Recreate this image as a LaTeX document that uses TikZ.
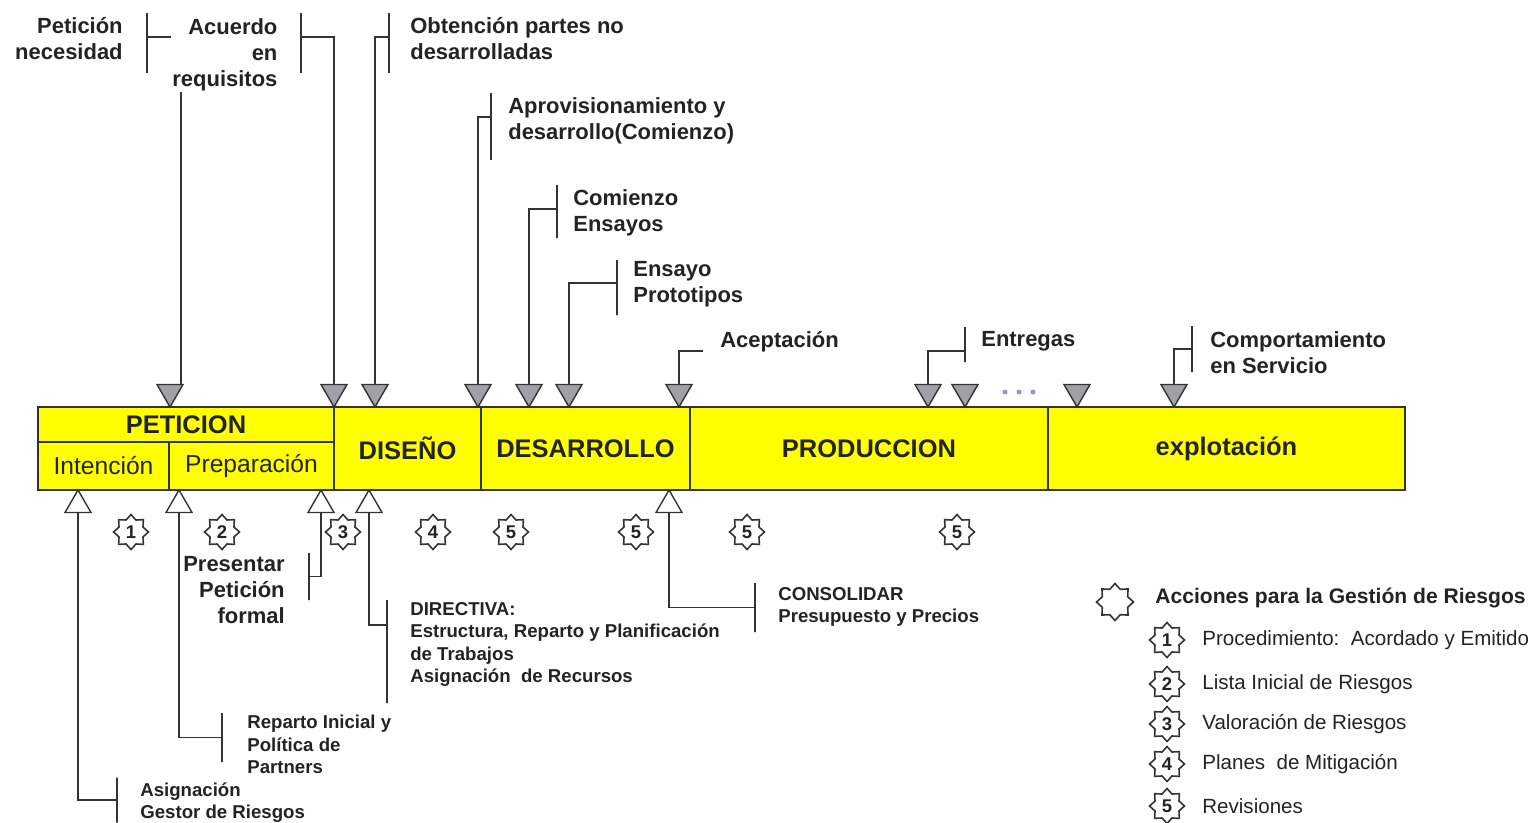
\documentclass[tikz,border=0pt]{standalone}
\usepackage{fontspec}
\setmainfont{Liberation Sans}
\usetikzlibrary{shapes.geometric}
\definecolor{phaseyellow}{RGB}{255,255,0}
\definecolor{linegray}{RGB}{51,51,51}
\definecolor{trigray}{RGB}{160,160,166}
\definecolor{dotblue}{RGB}{150,150,200}
\definecolor{textgray}{RGB}{35,35,35}

\begin{document}
\begin{tikzpicture}[
    x=0.02cm, y=-0.02cm,
    phase/.style={rectangle, draw=linegray, fill=phaseyellow, line width=1.1pt, inner sep=0pt,
                  text centered, text=textgray, font=\fontsize{14.5}{17}\selectfont\bfseries},
    subphase/.style={phase, font=\fontsize{14}{17}\selectfont},
    tridown/.style={regular polygon, regular polygon sides=3, shape border rotate=180,
                    draw=linegray, fill=trigray, line width=0.8pt, minimum size=0.6cm, inner sep=0pt},
    triup/.style={regular polygon, regular polygon sides=3, draw=linegray, fill=white,
                  line width=0.8pt, minimum size=0.6cm, inner sep=0pt},
    callout/.style={inner sep=0pt, text=textgray, font=\fontsize{12.5}{14.8}\selectfont\bfseries},
    note/.style={inner sep=0pt, text=textgray, font=\fontsize{10.6}{12.8}\selectfont\bfseries},
    bracket/.style={rectangle, draw=linegray, line width=1pt, inner sep=0pt, outer sep=0pt, minimum width=0pt},
    link/.style={draw=linegray, line width=1pt},
    riskstar/.style={star, star points=8, star point ratio=1.35, draw=linegray, line width=0.9pt,
                     minimum size=0.7cm, inner sep=0pt, text=textgray, font=\fontsize{10.5}{12}\selectfont\bfseries},
    legtext/.style={inner sep=0pt, anchor=west, text=textgray, font=\fontsize{11.7}{14}\selectfont}
]
\useasboundingbox (0,0) rectangle (1538,822);

% phases
\node[phase, minimum width=5.92cm, minimum height=0.70cm] (peticion) at (186,424.5) {PETICION};
\node[subphase, minimum width=2.62cm, minimum height=0.96cm] (intencion) at (103.5,466) {Intención};
\node[subphase, minimum width=3.30cm, minimum height=0.96cm] (preparacion) at (251.5,466) {Preparación};
\node[phase, minimum width=2.94cm, minimum height=1.66cm] (diseno) at (407.5,448.5) {DISEÑO};
\node[phase, minimum width=4.18cm, minimum height=1.66cm] (desarrollo) at (585.5,448.5) {DESARROLLO};
\node[phase, minimum width=7.16cm, minimum height=1.66cm] (produccion) at (869,448.5) {PRODUCCION};
\node[phase, minimum width=7.14cm, minimum height=1.66cm] (explotacion) at (1226.5,448.5) {explotación};

% milestones above and below the bar
\foreach \x/\n in {170/mNecesidad, 334/mAcuerdo, 375/mObtencion, 478/mAprov, 529/mEnsayos,
                   569/mPrototipos, 679/mAceptacion, 928/mEntrega, 965/mEntregaB, 1077/mServicioA, 1174/mServicio}
    \node[tridown] (\n) at (\x,392) {};
\foreach \x/\n in {78/uGestor, 179/uReparto, 321/uPresentar, 369/uDirectiva, 669/uConsolidar}
    \node[triup] (\n) at (\x,505) {};
\foreach \x in {1005,1019,1033}
    \fill[dotblue] (\x,392) circle (0.05cm);

% risk actions along the bar
\foreach \x/\k/\n in {131/1/sUno, 222/2/sDos, 343/3/sTres, 433/4/sCuatro, 511/5/sCincoA,
                      636/5/sCincoB, 747/5/sCincoC, 957/5/sCincoD}
    \node[riskstar] (\n) at (\x,532) {\k};

% upper callouts
\node[callout, align=right, anchor=north east] (necesidad) at (123,17) {Petición\\necesidad};
\node[bracket, minimum height=1.2cm] (bNecesidad) at (147,43) {};
\draw[link] ([yshift=0.12cm]bNecesidad.east) -| ([xshift=0.22cm]mNecesidad.north);

\node[callout, align=right, anchor=north east, fill=white, inner sep=1pt] (acuerdo) at (279.5,16) {Acuerdo\\en\\requisitos};
\node[bracket, minimum height=1.2cm] (bAcuerdo) at (301,43) {};
\draw[link] ([yshift=0.12cm]bAcuerdo.east) -| (mAcuerdo.north);

\node[callout, align=left, anchor=north west] (obtencion) at (410,17) {Obtención partes no\\desarrolladas};
\node[bracket, minimum height=1.2cm] (bObtencion) at (389,43) {};
\draw[link] ([yshift=0.12cm]bObtencion.west) -| (mObtencion.north);

\node[callout, align=left, anchor=north west] (aprov) at (508,97) {Aprovisionamiento y\\desarrollo(Comienzo)};
\node[bracket, minimum height=1.34cm] (bAprov) at (491,126.5) {};
\draw[link] ([yshift=0.19cm]bAprov.west) -| (mAprov.north);

\node[callout, align=left, anchor=north west] (ensayos) at (573,189) {Comienzo\\Ensayos};
\node[bracket, minimum height=1.06cm] (bEnsayos) at (557,211.5) {};
\draw[link] ([yshift=0.05cm]bEnsayos.west) -| (mEnsayos.north);

\node[callout, align=left, anchor=north west] (prototipos) at (633,261) {Ensayo\\Prototipos};
\node[bracket, minimum height=1.1cm] (bPrototipos) at (617,287.5) {};
\draw[link] ([yshift=0.09cm]bPrototipos.west) -| (mPrototipos.north);

\node[callout, anchor=north west] (aceptacion) at (720,331) {Aceptación};
\coordinate (cAceptacion) at (703,351);
\draw[link] (cAceptacion) -| (mAceptacion.north);

\node[callout, anchor=north west] (entregas) at (981,331) {Entregas};
\node[bracket, minimum height=0.7cm] (bEntregas) at (965,344.5) {};
\draw[link] ([yshift=-0.13cm]bEntregas.west) -| (mEntrega.north);

\node[callout, align=left, anchor=north west] (servicio) at (1210,331) {Comportamiento\\en Servicio};
\node[bracket, minimum height=0.92cm] (bServicio) at (1192,349) {};
\draw[link] (bServicio.west) -| (mServicio.north);

% lower callouts
\node[callout, align=right, anchor=north east] (presentar) at (285,556) {Presentar\\Petición\\formal};
\node[bracket, minimum height=0.94cm] (bPresentar) at (309,576.5) {};
\draw[link] (uPresentar.south) |- (bPresentar.east);

\node[note, align=left, anchor=north west] (directiva) at (410,602)
    {DIRECTIVA:\\Estructura, Reparto y Planificación\\de Trabajos\\Asignación\ \ de Recursos};
\node[bracket, minimum height=2.06cm] (bDirectiva) at (387,651.5) {};
\draw[link] (uDirectiva.south) |- ([yshift=0.53cm]bDirectiva.west);

\node[note, align=left, anchor=north west] (consolidar) at (778,587) {CONSOLIDAR\\Presupuesto y Precios};
\node[bracket, minimum height=0.98cm] (bConsolidar) at (755,607.5) {};
\draw[link] (uConsolidar.south) |- (bConsolidar.west);

\node[note, align=left, anchor=north west] (reparto) at (247,715) {Reparto Inicial y\\Política de\\Partners};
\node[bracket, minimum height=0.98cm] (bReparto) at (222,737.5) {};
\draw[link] (uReparto.south) |- (bReparto.west);

\node[note, align=left, anchor=north west] (gestor) at (140,782) {Asignación\\Gestor de Riesgos};
\node[bracket, minimum height=0.9cm] (bGestor) at (117,800) {};
\draw[link] (uGestor.south) |- (bGestor.west);

% legend
\node[riskstar, minimum size=0.74cm] (legStar) at (1115,602) {};
\node[callout, anchor=west, font=\fontsize{12}{14}\selectfont\bfseries] (legTitle) at (1155,598)
    {Acciones para la Gestión de Riesgos};
\foreach \y/\k/\t in {640/1/{Procedimiento:\ \ Acordado y Emitido}, 684/2/{Lista Inicial de Riesgos},
                      724/3/{Valoración de Riesgos}, 764/4/{Planes\ \ de Mitigación}, 806/5/{Revisiones}} {
    \node[riskstar] (leg\k) at (1167,\y) {\k};
    \node[legtext] (legText\k) at (1202,\y) {\t};
}

\end{tikzpicture}
\end{document}
